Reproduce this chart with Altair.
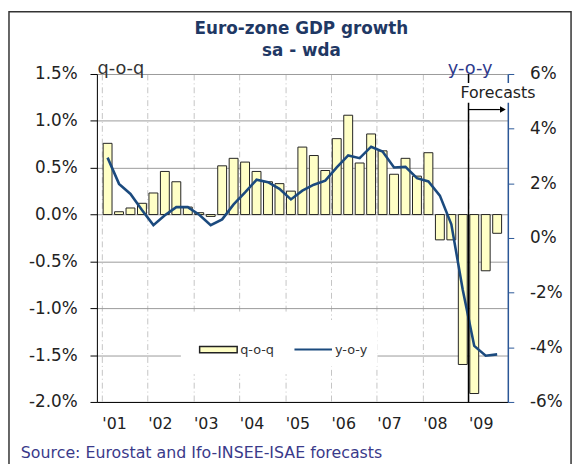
import json
import pandas as pd
import altair as alt

# ---------------- data ----------------
year_labels = ["'01", "'02", "'03", "'04", "'05", "'06", "'07", "'08", "'09"]
qoq = [0.76, 0.03, 0.07, 0.12,
       0.23, 0.46, 0.35, 0.08,
       0.02, -0.02, 0.52, 0.60,
       0.56, 0.46, 0.35, 0.33,
       0.25, 0.72, 0.63, 0.47,
       0.81, 1.06, 0.55, 0.86,
       0.68, 0.43, 0.60, 0.41,
       0.66, -0.27, -0.27, -1.60,
       -1.91, -0.60, -0.20]
yoy = [2.94, 1.98, 1.61, 1.02,
       0.47, 0.83, 1.13, 1.13,
       0.85, 0.47, 0.68, 1.23,
       1.67, 2.13, 2.04, 1.80,
       1.41, 1.73, 1.95, 2.10,
       2.58, 3.02, 2.92, 3.34,
       3.16, 2.58, 2.60, 2.19,
       2.07, 1.55, 0.50, -1.90,
       -3.95, -4.31, -4.26]
series_names = ["q-o-q", "y-o-y"]
left_ticks = [-2.0, -1.5, -1.0, -0.5, 0.0, 0.5, 1.0, 1.5]
right_ticks = [-6, -4, -2, 0, 2, 4, 6]
title_lines = ["Euro-zone GDP growth", "sa - wda"]
source_text = ["Source: Eurostat and Ifo-INSEE-ISAE forecasts"]
forecast_label = ["Forecasts"]
forecast_start = [32]  # first forecast quarter index (2009 Q1)

n = len(qoq)
df = pd.DataFrame({
    "t": [i + 0.5 for i in range(n)],
    "qoq": qoq,
    "yoy": yoy,
    "s1": series_names[0],
    "s2": series_names[1],
})

FONT = "DejaVu Sans"
NAVY = "#1B4A7E"
AXIS_BLUE = "#2B5797"
TXT = "#222222"
TITLE_C = "#1F3864"

W, H = 416, 332

x_enc = alt.X(
    "t:Q",
    scale=alt.Scale(domain=[0, n], nice=False, zero=False),
    axis=alt.Axis(
        values=list(range(0, n, 4)),
        labelExpr=json.dumps(year_labels) + "[round(datum.value / 4)]",
        title=None, grid=True, gridColor="#c4c4c4", gridDash=[6, 3, 1, 3],
        ticks=False, domainColor="#000000", labelAlign="left",
        labelPadding=14, labelFontSize=16, labelColor=TXT, labelFont=FONT,
    ),
)

bars = alt.Chart(df).mark_bar(size=9, stroke="#222222", strokeWidth=1).encode(
    x=x_enc,
    y=alt.Y(
        "qoq:Q",
        scale=alt.Scale(domain=[-2, 1.5], nice=False),
        axis=alt.Axis(
            orient="left", values=left_ticks,
            labelExpr="(datum.value < 0 ? '-' : '') + format(abs(datum.value), '.1f') + '%'",
            grid=True, gridColor="#9a9a9a", domainColor="#000000", tickColor="#000000",
            tickSize=7, labelPadding=13, labelFontSize=17, labelColor=TXT, labelFont=FONT,
            title=series_names[0], titleAngle=0, titleX=0, titleY=-1, titleAlign="left",
            titleBaseline="alphabetic", titleFontWeight="normal", titleFontSize=18,
            titleColor="#333333", titleFont=FONT,
        ),
    ),
    fill=alt.Fill(
        "s1:N",
        scale=alt.Scale(domain=[series_names[0]], range=["#FFFFC6"]),
        legend=alt.Legend(
            orient="none", legendX=85, legendY=241, title=None, padding=18,
            fillColor="white", symbolType="M-1,-0.17H1V0.17H-1Z", symbolSize=1444,
            symbolStrokeColor="#222222", symbolStrokeWidth=1.5,
            labelFontSize=13, labelColor="#333333", labelFont=FONT, labelOffset=2,
        ),
    ),
)

line = alt.Chart(df).mark_line(strokeWidth=2.6).encode(
    x=x_enc,
    y=alt.Y(
        "yoy:Q",
        scale=alt.Scale(domain=[-6, 6], nice=False),
        axis=alt.Axis(
            orient="right", values=right_ticks,
            labelExpr="datum.value + '%'",
            grid=False, domainColor=AXIS_BLUE, tickColor=AXIS_BLUE, domainWidth=1.5,
            tickSize=6, labelPadding=16, labelFontSize=17, labelColor=TXT, labelFont=FONT,
            title=series_names[1], titleAngle=0, titleX=-16, titleY=-1, titleAlign="right",
            titleBaseline="alphabetic", titleFontWeight="normal", titleFontSize=18,
            titleColor="#2E3A8C", titleFont=FONT,
        ),
    ),
    stroke=alt.Stroke(
        "s2:N",
        scale=alt.Scale(domain=[series_names[1]], range=[NAVY]),
        legend=alt.Legend(
            orient="none", legendX=189, legendY=249, title=None, padding=10,
            fillColor="white", symbolType="stroke", symbolSize=1444,
            symbolStrokeWidth=2, labelFontSize=13, labelColor="#333333",
            labelFont=FONT, labelOffset=2,
        ),
    ),
)

fdf = pd.DataFrame({"t": forecast_start, "label": forecast_label})

f_rule = alt.Chart(fdf).mark_rule(color="#000000", strokeWidth=1.5).encode(
    x="t:Q", y=alt.value(0), y2=alt.value(H)
)
f_box = alt.Chart(fdf).mark_rect(fill="white").encode(
    x=alt.value(365), x2=alt.value(447), y=alt.value(9), y2=alt.value(29)
)
f_text = alt.Chart(fdf).mark_text(
    font=FONT, fontSize=16, color=TXT, baseline="middle", align="center"
).encode(x=alt.value(406), y=alt.value(19), text="label:N")
f_arrow = alt.Chart(fdf).mark_rule(color="#000000", strokeWidth=1.2).encode(
    x="t:Q", x2=alt.value(408), y=alt.value(36)
)
f_head = alt.Chart(fdf).mark_point(
    shape="triangle-right", filled=True, color="#000000", size=45, opacity=1
).encode(x=alt.value(411), y=alt.value(36))

tdf = pd.DataFrame({"label": title_lines})
title1 = alt.Chart(tdf.iloc[[0]]).mark_text(
    font=FONT, fontSize=17, fontWeight="bold", color=TITLE_C, align="center",
    baseline="alphabetic"
).encode(x=alt.value(207), y=alt.value(-40), text="label:N")
title2 = alt.Chart(tdf.iloc[[1]]).mark_text(
    font=FONT, fontSize=17, fontWeight="bold", color=TITLE_C, align="center",
    baseline="alphabetic"
).encode(x=alt.value(207), y=alt.value(-18), text="label:N")

src = alt.Chart(pd.DataFrame({"label": source_text})).mark_text(
    font=FONT, fontSize=16, color="#3A3A8A", align="left", baseline="alphabetic"
).encode(x=alt.value(-77), y=alt.value(389), text="label:N")

frame = alt.Chart(pd.DataFrame({"k": [0]})).mark_rect(
    fill="#ffffff", fillOpacity=0, stroke="#333333", strokeWidth=1.5
).encode(x=alt.value(-89), x2=alt.value(480), y=alt.value(-63), y2=alt.value(420))

chart = alt.layer(
    frame, bars, line, f_rule, f_box, f_text, f_arrow, f_head, title1, title2, src
).resolve_scale(y="independent").properties(
    width=W, height=H,
    autosize=alt.AutoSizeParams(type="none"),
    padding={"left": 90, "top": 64, "right": 68, "bottom": 60},
).configure_view(stroke=None).configure(background="white")

chart.save("out.html", embed_options={"renderer": "svg", "actions": False})
